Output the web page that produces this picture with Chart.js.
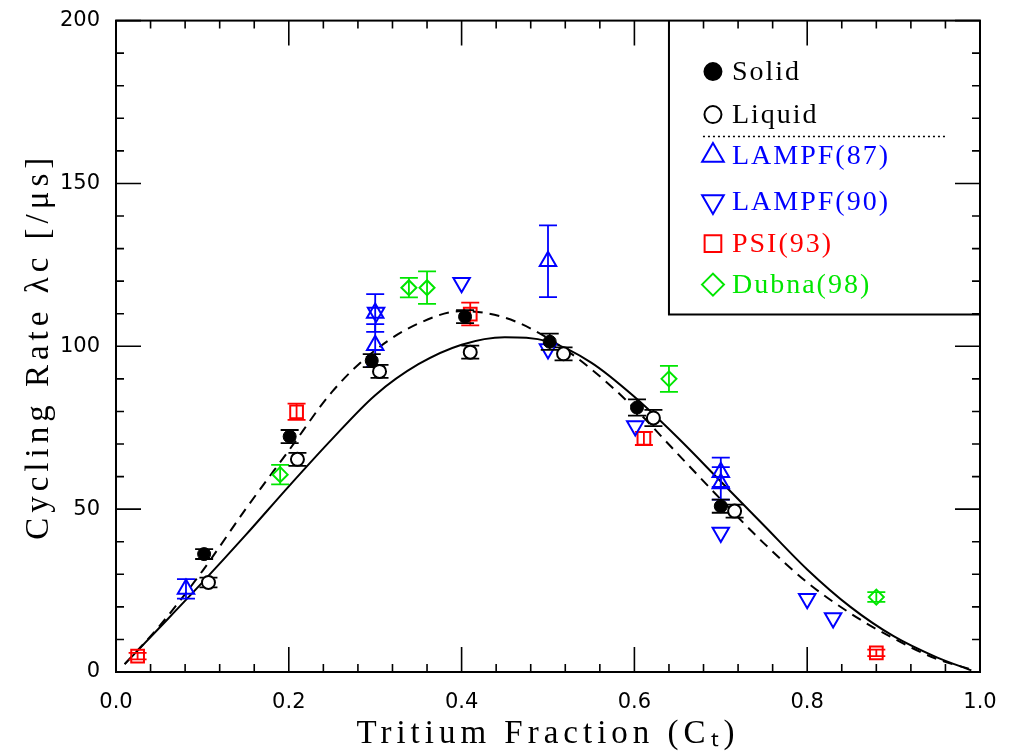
<!DOCTYPE html>
<html>
<head>
<meta charset="utf-8">
<script src="https://cdn.jsdelivr.net/npm/chart.js@4.4.1/dist/chart.umd.min.js"></script>
<style>
  html, body { margin: 0; padding: 0; background: #fff; }
  canvas { display: block; }
</style>
</head>
<body>
<canvas id="c" width="1013" height="756"></canvas>
<script>
// ---- data ----
const solidX   = [0.102, 0.201, 0.296, 0.404, 0.502, 0.603, 0.700];
const solidY   = [36.2, 72.3, 95.6, 109.1, 101.4, 81.2, 50.9];
const solidErr = [1.5, 2, 2, 2, 2.5, 2.5, 2];

const liquidX   = [0.107, 0.210, 0.305, 0.410, 0.518, 0.622, 0.716];
const liquidY   = [27.5, 65.3, 92.3, 98.2, 97.7, 78.0, 49.4];
const liquidErr = [1.5, 2, 2, 2, 2, 2.5, 2];

const lampf87X   = [0.081, 0.300, 0.300, 0.500, 0.700, 0.700];
const lampf87Y   = [25.5, 110.2, 100.3, 126.1, 61.3, 57.9];
const lampf87Err = [3, 5.8, 6.5, 11, 4.5, 5];

const lampf90X = [0.301, 0.400, 0.500, 0.601, 0.700, 0.800, 0.830];
const lampf90Y = [110.4, 119.5, 99.2, 75.5, 42.8, 22.5, 16.6];

const psiX   = [0.025, 0.209, 0.410, 0.611, 0.880];
const psiY   = [4.9, 79.9, 109.9, 71.7, 5.9];
const psiErr = [1, 2.5, 3.5, 2, 1];

const dubnaX   = [0.190, 0.339, 0.360, 0.640, 0.880];
const dubnaY   = [60.6, 118.0, 118.0, 90.0, 23.0];
const dubnaErr = [3, 3, 5, 4, 1.5];

const curveX    = [0.01, 0.05, 0.10, 0.15, 0.20, 0.25, 0.30, 0.35, 0.40, 0.45, 0.50, 0.55, 0.60, 0.65, 0.70, 0.75, 0.80, 0.85, 0.90, 0.95, 0.99];
const solidFit  = [2.4, 13.5, 27.5, 42, 57, 71.5, 85, 94.5, 100.5, 102.8, 101.5, 95, 84.5, 72, 58.5, 45, 31.5, 20, 11, 4.5, 0.5];
const dashedFit = [2.4, 14, 31, 50, 68, 86, 98.8, 107, 110.8, 108.8, 102.5, 93, 81, 67, 53, 39.5, 27.5, 18, 10.3, 4, 0.8];

const seriesLabels = ['Solid', 'Liquid', 'LAMPF(87)', 'LAMPF(90)', 'PSI(93)', 'Dubna(98)'];
const xTitle = 'Tritium Fraction (C\u209C)';
const yTitle = 'Cycling Rate \u03BBc [/\u03BCs]';
const xMajor = [0, 0.2, 0.4, 0.6, 0.8, 1.0];
const yMajor = [0, 50, 100, 150, 200];

// ---- styles ----
const BLUE = '#0000ff', RED = '#ff0000', GREEN = '#00e600', BLACK = '#000000';
const pts = (xs, ys) => xs.map((x, i) => ({ x: x, y: ys[i] }));

const datasets = [
  { label: seriesLabels[0], data: pts(solidX, solidY), errors: solidErr, errColor: BLACK,
    pointStyle: 'circle', pointRadius: 6.5, pointBackgroundColor: BLACK, pointBorderColor: BLACK, pointBorderWidth: 1, showLine: false, order: 1 },
  { label: seriesLabels[1], data: pts(liquidX, liquidY), errors: liquidErr, errColor: BLACK,
    pointStyle: 'circle', pointRadius: 6.5, pointBackgroundColor: '#ffffff', pointBorderColor: BLACK, pointBorderWidth: 2, showLine: false, order: 0 },
  { label: seriesLabels[2], data: pts(lampf87X, lampf87Y), errors: lampf87Err, errColor: BLUE,
    pointStyle: 'triangle', pointRadius: 9.5, pointBackgroundColor: 'rgba(0,0,0,0)', pointBorderColor: BLUE, pointBorderWidth: 2, showLine: false, order: 2 },
  { label: seriesLabels[3], data: pts(lampf90X, lampf90Y),
    pointStyle: 'triangle', pointRotation: 180, pointRadius: 9.5, pointBackgroundColor: 'rgba(0,0,0,0)', pointBorderColor: BLUE, pointBorderWidth: 2, showLine: false, order: 2 },
  { label: seriesLabels[4], data: pts(psiX, psiY), errors: psiErr, errColor: RED,
    pointStyle: 'rect', pointRadius: 9, pointBackgroundColor: 'rgba(0,0,0,0)', pointBorderColor: RED, pointBorderWidth: 2, showLine: false, order: 2 },
  { label: seriesLabels[5], data: pts(dubnaX, dubnaY), errors: dubnaErr, errColor: GREEN,
    pointStyle: 'rectRot', pointRadius: 7.5, pointBackgroundColor: 'rgba(0,0,0,0)', pointBorderColor: GREEN, pointBorderWidth: 2, showLine: false, order: 2 },
  { label: 'fit-solid', type: 'line', data: pts(curveX, solidFit), borderColor: BLACK, borderWidth: 2,
    pointRadius: 0, cubicInterpolationMode: 'monotone', fill: false, order: 10, isCurve: true },
  { label: 'fit-dashed', type: 'line', data: pts(curveX, dashedFit), borderColor: BLACK, borderWidth: 2, borderDash: [10, 7],
    pointRadius: 0, cubicInterpolationMode: 'monotone', fill: false, order: 10, isCurve: true }
];

// error bars drawn just before each marker dataset
const errorBars = {
  id: 'errorBars',
  beforeDatasetDraw(chart, args) {
    const ds = chart.data.datasets[args.index];
    if (!ds.errors) return;
    const xs = chart.scales.x, ys = chart.scales.y, ctx = chart.ctx;
    ctx.save();
    ctx.strokeStyle = ds.errColor;
    ctx.lineWidth = 1.8;
    const cap = 9;
    ds.data.forEach((p, i) => {
      const px = xs.getPixelForValue(p.x);
      const top = ys.getPixelForValue(p.y + ds.errors[i]);
      const bot = ys.getPixelForValue(p.y - ds.errors[i]);
      ctx.beginPath();
      ctx.moveTo(px, top); ctx.lineTo(px, bot);
      ctx.moveTo(px - cap, top); ctx.lineTo(px + cap, top);
      ctx.moveTo(px - cap, bot); ctx.lineTo(px + cap, bot);
      ctx.stroke();
    });
    ctx.restore();
  }
};

// frame and inward ticks on all four sides
const frameTicks = {
  id: 'frameTicks',
  afterDatasetsDraw(chart) {
    const { ctx, chartArea: a } = chart;
    const xs = chart.scales.x, ys = chart.scales.y;
    ctx.save();
    ctx.strokeStyle = BLACK;
    ctx.lineWidth = 2;
    ctx.strokeRect(a.left, a.top, a.right - a.left, a.bottom - a.top);
    ctx.lineWidth = 1.6;
    const MAJ = 25, MIN = 8;
    ctx.beginPath();
    for (let k = 0; k <= 25; k++) {
      const v = k * 0.04;
      const px = xs.getPixelForValue(v);
      const len = (k % 5 === 0) ? MAJ : MIN;
      ctx.moveTo(px, a.bottom); ctx.lineTo(px, a.bottom - len);
      ctx.moveTo(px, a.top); ctx.lineTo(px, a.top + len);
    }
    for (let k = 0; k <= 20; k++) {
      const v = k * 10;
      const py = ys.getPixelForValue(v);
      const len = (k % 5 === 0) ? MAJ : MIN;
      ctx.moveTo(a.left, py); ctx.lineTo(a.left + len, py);
      ctx.moveTo(a.right, py); ctx.lineTo(a.right - len, py);
    }
    ctx.stroke();
    ctx.restore();
  }
};

function drawMarker(ctx, style, x, y, r, rot) {
  ctx.beginPath();
  if (style === 'circle') {
    ctx.arc(x, y, r, 0, Math.PI * 2);
  } else if (style === 'triangle') {
    const s = rot ? -1 : 1;
    for (let k = 0; k < 3; k++) {
      const ang = k * 2 * Math.PI / 3;
      const px = x + Math.sin(ang) * r;
      const py = y - s * Math.cos(ang) * r;
      if (k === 0) ctx.moveTo(px, py); else ctx.lineTo(px, py);
    }
    ctx.closePath();
  } else if (style === 'rect') {
    const h = r * Math.SQRT1_2;
    ctx.rect(x - h, y - h, 2 * h, 2 * h);
  } else if (style === 'rectRot') {
    ctx.moveTo(x - r, y); ctx.lineTo(x, y - r); ctx.lineTo(x + r, y); ctx.lineTo(x, y + r);
    ctx.closePath();
  }
}

// boxed legend in the upper right
const boxLegend = {
  id: 'boxLegend',
  afterDraw(chart) {
    const { ctx, chartArea: a } = chart;
    const left = a.left + (a.right - a.left) * 0.640;
    const bottom = a.top + 294;
    ctx.save();
    ctx.strokeStyle = BLACK;
    ctx.lineWidth = 2;
    ctx.beginPath();
    ctx.moveTo(left, a.top); ctx.lineTo(left, bottom); ctx.lineTo(a.right, bottom);
    ctx.stroke();
    const mx = left + 44, tx = left + 63;
    const rowsY = [51, 94, 135, 181, 223, 264];
    const sizes = [8.5, 8.5, 12.5, 12.5, 11.8, 11];
    ctx.font = '28px "Liberation Serif"';
    ctx.textBaseline = 'middle';
    ctx.textAlign = 'left';
    try { ctx.letterSpacing = '2px'; } catch (e) {}
    chart.data.datasets.forEach((ds, i) => {
      if (ds.isCurve) return;
      const y = a.top + rowsY[i];
      ctx.lineWidth = 2;
      ctx.strokeStyle = ds.pointBorderColor;
      drawMarker(ctx, ds.pointStyle, mx, y, sizes[i], ds.pointRotation === 180);
      if (i === 0) { ctx.fillStyle = BLACK; ctx.fill(); }
      ctx.stroke();
      ctx.fillStyle = ds.pointBorderColor;
      ctx.fillText(ds.label, tx, y + 1);
    });
    // dotted separator
    ctx.lineWidth = 1.5;
    ctx.strokeStyle = BLACK;
    ctx.setLineDash([2, 3]);
    ctx.beginPath();
    ctx.moveTo(left + 34, a.top + 116);
    ctx.lineTo(left + 278, a.top + 116);
    ctx.stroke();
    ctx.restore();
  }
};

// spaced-out serif axis titles
const titleSpacing = {
  id: 'titleSpacing',
  beforeDraw(chart) {
    ['x', 'y'].forEach(id => {
      const s = chart.scales[id];
      if (!s || s._spaced) return;
      const orig = s.drawTitle;
      s.drawTitle = function () {
        this.ctx.save();
        try { this.ctx.letterSpacing = '5px'; } catch (e) {}
        orig.apply(this, arguments);
        this.ctx.restore();
      };
      s._spaced = true;
    });
  }
};

const tickFont = { family: '"DejaVu Sans"', size: 21 };
const titleFont = { family: '"Liberation Serif"', size: 33 };

new Chart(document.getElementById('c'), {
  type: 'scatter',
  data: { datasets: datasets },
  options: {
    responsive: false,
    animation: false,
    devicePixelRatio: 1,
    layout: { padding: { top: 16, right: 33, left: 0, bottom: 0 } },
    plugins: { legend: { display: false }, tooltip: { enabled: false } },
    scales: {
      x: {
        type: 'linear', min: 0, max: 1,
        afterFit: s => { s.height = 84; },
        afterBuildTicks: s => { s.ticks = xMajor.map(v => ({ value: v })); },
        grid: { display: false }, border: { display: false },
        ticks: { font: tickFont, color: BLACK, padding: 10, maxRotation: 0, autoSkip: false,
                 callback: v => Number(v).toFixed(1) },
        title: { display: true, text: xTitle, font: titleFont, color: BLACK, padding: { top: 0, bottom: 2 } }
      },
      y: {
        type: 'linear', min: 0, max: 200,
        afterFit: s => { s.width = 116; },
        afterBuildTicks: s => { s.ticks = yMajor.map(v => ({ value: v })); },
        grid: { display: false }, border: { display: false },
        ticks: { font: tickFont, color: BLACK, padding: 8, callback: v => String(v) },
        title: { display: true, text: yTitle, font: titleFont, color: BLACK, padding: { top: 20, bottom: 0 } }
      }
    }
  },
  plugins: [errorBars, frameTicks, boxLegend, titleSpacing]
});
</script>
</body>
</html>
